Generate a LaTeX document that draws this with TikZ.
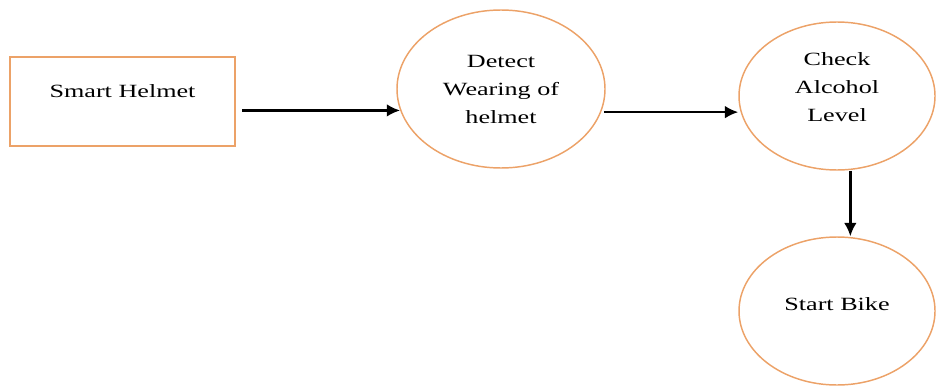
\documentclass[tikz,border=0pt]{standalone}
\usepackage{fontspec}
\setmainfont{Liberation Serif}[FakeStretch=1.4]
\usetikzlibrary{shapes.geometric,arrows.meta}

\definecolor{helmetorange}{RGB}{236,162,104}

\tikzset{every picture/.style={line width=0.75pt}}
\tikzset{
  stepbox/.style={draw=helmetorange,line width=1.1pt,rectangle,minimum width=168.75pt,minimum height=66.75pt,inner sep=0pt,font=\fontsize{14}{21}\selectfont},
  stepoval/.style={draw=helmetorange,line width=1.1pt,ellipse,inner sep=0pt,align=center,font=\fontsize{14}{21}\selectfont},
  flow/.style={line width=1.8pt,-{Latex[length=10pt,width=9.5pt]}}
}

\begin{document}
\begin{tikzpicture}[x=0.75pt,y=0.75pt,yscale=-1,xscale=1]
\useasboundingbox (0,0) rectangle (937,385);

% Text Node
\node [stepbox,text depth=16pt] (helmet) at (122.5,101.5) {Smart Helmet};
% Text Node
\node [stepoval,minimum width=156pt,minimum height=118.5pt] (wear) at (501,89) {Detect\\Wearing of\\helmet};
% Text Node
\node [stepoval,minimum width=147pt,minimum height=111pt,text depth=14pt] (alcohol) at (837,96) {Check\\Alcohol\\Level};
% Text Node
\node [stepoval,minimum width=147pt,minimum height=111pt,text depth=10pt] (bike) at (837,311) {Start Bike};

% Connection
\draw [flow] ([xshift=5pt]wear.192 -| helmet.east) -- (wear.192);
% Connection
\draw [flow] ([xshift=2pt]wear.-13) -- (wear.-13 -| alcohol.west);
% Connection
\draw [flow] ([xshift=10pt]alcohol.south) -- ([xshift=10pt]bike.north);

\end{tikzpicture}
\end{document}
